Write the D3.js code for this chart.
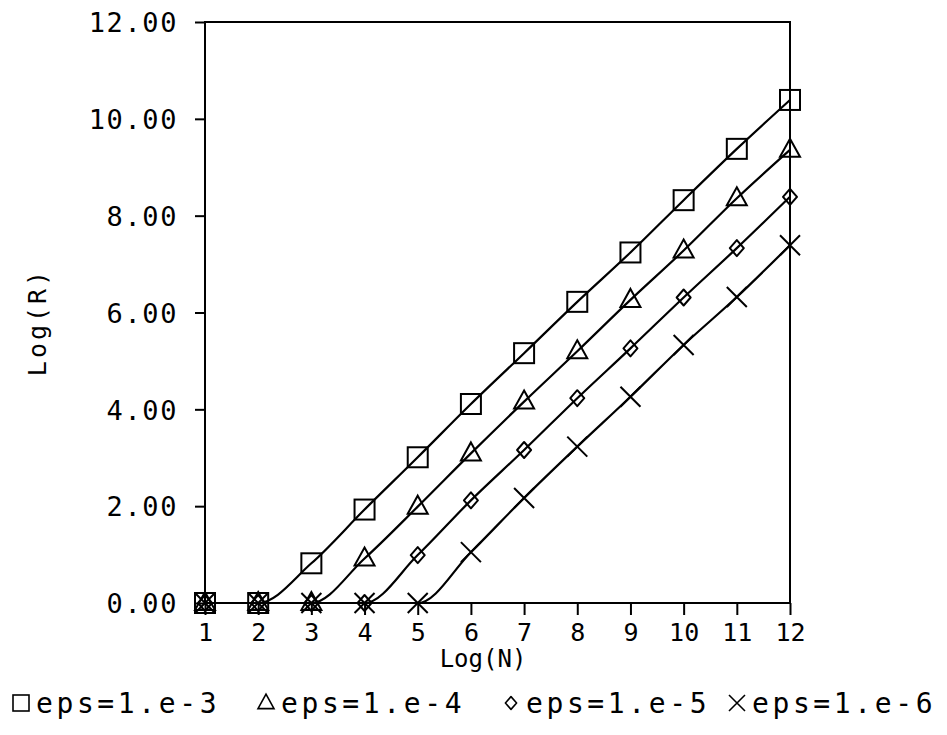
<!DOCTYPE html>
<html>
<head>
<meta charset="utf-8">
<script src="https://cdn.jsdelivr.net/npm/d3@7"></script>
<style>
  body { margin: 0; background: #fff; }
  text { font-family: "DejaVu Sans Mono", monospace; fill: #000; }
</style>
</head>
<body>
<div id="chart"></div>
<script>
// Data
const logN = [1, 2, 3, 4, 5, 6, 7, 8, 9, 10, 11, 12];
const eps3 = [0, 0, 0.82, 1.93, 3.01, 4.11, 5.16, 6.22, 7.24, 8.32, 9.38, 10.39];
const eps4 = [0, 0, 0, 0.92, 1.99, 3.09, 4.16, 5.2, 6.26, 7.28, 8.36, 9.36];
const eps5 = [0, 0, 0, 0, 0.99, 2.12, 3.16, 4.23, 5.26, 6.31, 7.33, 8.39];
const eps6 = [0, 0, 0, 0, 0, 1.05, 2.17, 3.23, 4.26, 5.33, 6.32, 7.39];
const yTicks = [0, 2, 4, 6, 8, 10, 12];
const seriesNames = ["eps=1.e-3", "eps=1.e-4", "eps=1.e-5", "eps=1.e-6"];
const seriesMarkers = ["square", "triangle", "diamond", "cross"];

const width = 947, height = 735;
const svg = d3.select("#chart").append("svg")
    .attr("width", width)
    .attr("height", height);

const x = d3.scaleLinear().domain([1, 12]).range([205, 790]);
const y = d3.scaleLinear().domain([0, 12]).range([603, 22]);

// marker drawing
function drawMarker(g, type, cx, cy, s) {
    const k = s || 1;
    if (type === "square") {
        g.append("rect")
            .attr("x", cx - 10 * k).attr("y", cy - 10 * k)
            .attr("width", 20 * k).attr("height", 20 * k)
            .attr("fill", "none").attr("stroke", "#000").attr("stroke-width", 2);
    } else if (type === "triangle") {
        g.append("path")
            .attr("d", `M${cx},${cy - 11 * k}L${cx + 10 * k},${cy + 7 * k}L${cx - 10 * k},${cy + 7 * k}Z`)
            .attr("fill", "none").attr("stroke", "#000").attr("stroke-width", 2);
    } else if (type === "diamond") {
        g.append("path")
            .attr("d", `M${cx},${cy - 8 * k}L${cx + 7 * k},${cy}L${cx},${cy + 8 * k}L${cx - 7 * k},${cy}Z`)
            .attr("fill", "none").attr("stroke", "#000").attr("stroke-width", 2)
            .attr("stroke-linejoin", "round");
    } else {
        g.append("path")
            .attr("d", `M${cx - 10 * k},${cy - 10 * k}L${cx + 10 * k},${cy + 10 * k}M${cx + 10 * k},${cy - 10 * k}L${cx - 10 * k},${cy + 10 * k}`)
            .attr("fill", "none").attr("stroke", "#000").attr("stroke-width", 2);
    }
}

// frame
svg.append("rect")
    .attr("x", x(1)).attr("y", y(12))
    .attr("width", x(12) - x(1)).attr("height", y(0) - y(12))
    .attr("fill", "none").attr("stroke", "#000").attr("stroke-width", 2);

// y axis
const yAxis = svg.append("g")
    .attr("transform", `translate(${x(1)},0)`)
    .call(d3.axisLeft(y).tickValues(yTicks).tickFormat(d3.format(".2f")).tickSize(10).tickPadding(17));
yAxis.select(".domain").remove();
yAxis.selectAll("line").attr("stroke", "#000").attr("stroke-width", 2);
yAxis.selectAll("text")
    .attr("font-family", "DejaVu Sans Mono")
    .style("font-size", "27px")
    .style("letter-spacing", "1.6px")
    .attr("dy", "0.36em");

// x axis
const xAxis = svg.append("g")
    .attr("transform", `translate(0,${y(0)})`)
    .call(d3.axisBottom(x).tickValues(logN).tickFormat(d3.format("d")).tickSize(12).tickPadding(6));
xAxis.select(".domain").remove();
xAxis.selectAll("line").attr("stroke", "#000").attr("stroke-width", 2);
xAxis.selectAll("text")
    .attr("font-family", "DejaVu Sans Mono")
    .style("font-size", "25px")
    .attr("dy", "0.78em");

// axis labels
svg.append("text")
    .attr("x", 483).attr("y", 667)
    .attr("text-anchor", "middle")
    .style("font-size", "24px")
    .text("Log(N)");

svg.append("text")
    .attr("transform", "translate(46,322) rotate(-90)")
    .attr("text-anchor", "middle")
    .style("font-size", "25px")
    .style("letter-spacing", "3px")
    .text("Log(R)");

// series
const allSeries = [eps3, eps4, eps5, eps6];
const line = d3.line()
    .x((d, i) => x(logN[i]))
    .y(d => y(d))
    .curve(d3.curveMonotoneX);

const plot = svg.append("g");
allSeries.forEach((vals) => {
    plot.append("path")
        .datum(vals)
        .attr("d", line)
        .attr("fill", "none")
        .attr("stroke", "#000")
        .attr("stroke-width", 2.2);
});
allSeries.forEach((vals, si) => {
    vals.forEach((v, i) => drawMarker(plot, seriesMarkers[si], x(logN[i]), y(v)));
});

// legend
const legendX = [12, 257, 502, 728];
const legend = svg.append("g");
seriesNames.forEach((name, i) => {
    const g = legend.append("g");
    drawMarker(g, seriesMarkers[i], legendX[i] + 9, 703, 0.8);
    g.selectAll("rect,path").attr("stroke-width", 1.6);
    g.append("text")
        .attr("x", legendX[i] + 24)
        .attr("y", 713)
        .style("font-size", "28px")
        .style("letter-spacing", "3.6px")
        .text(name);
});
</script>
</body>
</html>
